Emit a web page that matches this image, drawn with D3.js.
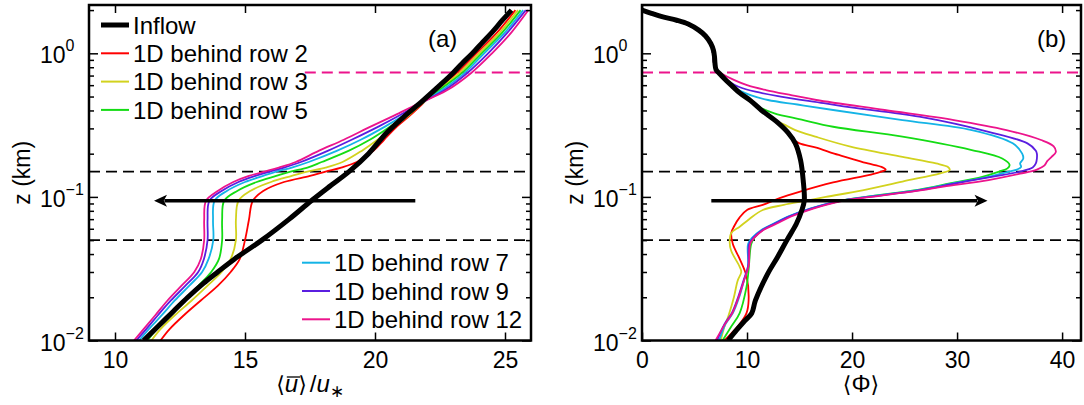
<!DOCTYPE html>
<html>
<head>
<meta charset="utf-8">
<script src="https://cdn.jsdelivr.net/npm/d3@7"></script>
<style>
  body { margin: 0; background: #fff; }
  text { font-family: "Liberation Sans", Arial, sans-serif; }
</style>
</head>
<body>
<script>
// ---------- data (z in km) ----------
const zDomain = [0.01, 2.17];
const uDomain = [9, 26];
const phiDomain = [0, 41.8];
const uTicks = [10, 15, 20, 25];
const phiTicks = [0, 10, 20, 30, 40];
const zMajor = [0.01, 0.1, 1];
const zMajorExp = ["\u22122", "\u22121", "0"];
const zMinor = [0.02, 0.03, 0.04, 0.05, 0.06, 0.07, 0.08, 0.09,
                0.2, 0.3, 0.4, 0.5, 0.6, 0.7, 0.8, 0.9, 2];

const seriesNames = ["Inflow", "1D behind row 2", "1D behind row 3", "1D behind row 5",
                     "1D behind row 7", "1D behind row 9", "1D behind row 12"];
const seriesColors = ["#000000", "#ff0000", "#d2d21e", "#14dc14", "#14b4e6", "#5a1ee0", "#ec148c"];

const zDashBlack = [0.05, 0.15];
const zDashMagenta = 0.735;
const uDashMagentaStart = 17.3;
const arrowZ = 0.094;
const uArrow = [21.55, 11.5];   // tail, tip
const phiArrow = [6.6, 32.9];   // tail, tip

// panel (a): [z, <u>/u*]
const uInflow = [[0.01,11.1],[0.0125,11.65],[0.016,12.25],[0.02,12.8],[0.025,13.4],[0.03,13.95],[0.037,14.6],
  [0.05,15.65],[0.07,16.7],[0.094,17.55],[0.12,18.3],[0.15,19.0],[0.2,19.75],[0.28,20.45],[0.36,21.1],
  [0.47,21.85],[0.6,22.5],[0.73,23.0],[0.85,23.35],[1.0,23.75],[1.2,24.15],[1.4,24.5],[1.7,24.9],[2.0,25.25]];
const uRow2 = [[0.01,11.75],[0.012,12.1],[0.015,12.65],[0.019,13.3],[0.024,13.95],[0.03,14.45],[0.037,14.8],
  [0.05,15.0],[0.069,15.15],[0.094,15.3],[0.11,15.7],[0.127,16.5],[0.14,17.5],[0.15,18.1],[0.16,18.7],
  [0.175,19.3],[0.21,19.95],[0.25,20.35],[0.31,20.85],[0.37,21.35],[0.44,21.8],[0.55,22.35],[0.73,23.15],
  [1.0,23.9],[1.4,24.7],[2.0,25.4]];
const uRow3 = [[0.01,11.4],[0.012,11.75],[0.015,12.3],[0.019,12.95],[0.024,13.55],[0.03,14.1],[0.037,14.45],
  [0.05,14.65],[0.069,14.65],[0.094,14.75],[0.11,15.2],[0.127,16.0],[0.14,16.8],[0.15,17.4],[0.16,18.1],
  [0.175,18.75],[0.21,19.5],[0.25,20.1],[0.31,20.75],[0.37,21.3],[0.44,21.75],[0.55,22.4],[0.73,23.25],
  [1.0,24.0],[1.4,24.8],[2.0,25.5]];
const uRow5 = [[0.01,11.25],[0.012,11.6],[0.015,12.1],[0.019,12.65],[0.024,13.2],[0.03,13.7],[0.037,14.0],
  [0.05,14.12],[0.069,14.12],[0.094,14.2],[0.11,14.7],[0.127,15.45],[0.14,16.2],[0.15,16.75],[0.16,17.4],
  [0.175,17.95],[0.21,19.0],[0.25,19.8],[0.31,20.6],[0.37,21.25],[0.44,21.75],[0.55,22.45],[0.73,23.35],
  [1.0,24.1],[1.4,24.9],[2.0,25.6]];
const uRow7 = [[0.01,10.93],[0.012,11.3],[0.015,11.8],[0.019,12.3],[0.024,12.85],[0.03,13.35],[0.037,13.6],
  [0.05,13.78],[0.069,13.77],[0.094,13.83],[0.11,14.3],[0.127,15.0],[0.14,15.7],[0.15,16.2],[0.16,16.8],
  [0.175,17.45],[0.21,18.55],[0.25,19.45],[0.31,20.4],[0.37,21.1],[0.44,21.7],[0.55,22.55],[0.73,23.45],
  [1.0,24.2],[1.4,25.0],[2.0,25.7]];
const uRow9 = [[0.01,10.82],[0.012,11.2],[0.015,11.65],[0.019,12.15],[0.024,12.7],[0.03,13.2],[0.037,13.42],
  [0.05,13.56],[0.069,13.56],[0.094,13.63],[0.11,14.1],[0.127,14.75],[0.14,15.4],[0.15,15.95],[0.16,16.5],
  [0.175,17.15],[0.21,18.2],[0.25,19.1],[0.31,20.15],[0.37,20.95],[0.44,21.65],[0.55,22.65],[0.73,23.55],
  [1.0,24.35],[1.4,25.1],[2.0,25.8]];
const uRow12 = [[0.01,10.73],[0.012,11.1],[0.015,11.55],[0.019,12.02],[0.024,12.55],[0.03,13.05],[0.037,13.3],
  [0.05,13.43],[0.069,13.43],[0.094,13.5],[0.11,13.95],[0.127,14.55],[0.14,15.15],[0.15,15.75],[0.16,16.3],
  [0.175,16.95],[0.21,17.85],[0.25,18.8],[0.31,19.85],[0.37,20.75],[0.44,21.6],[0.55,22.75],[0.73,23.7],
  [1.0,24.5],[1.4,25.25],[2.0,25.9]];

// panel (b): [z, <Phi>]
const phiInflow = [[2.0,0],[1.9,0.9],[1.8,1.9],[1.7,3.3],[1.6,4.4],[1.45,5.4],[1.32,6.05],[1.17,6.55],
  [1.05,6.8],[0.95,6.9],[0.85,6.95],[0.77,7.05],[0.72,7.4],[0.66,7.9],[0.6,8.5],[0.53,9.3],[0.47,10.3],
  [0.4,11.4],[0.33,12.9],[0.28,13.9],[0.236,14.6],[0.18,15.1],[0.13,15.35],[0.094,15.45],[0.08,15.2],
  [0.065,14.7],[0.05,13.8],[0.038,12.9],[0.029,11.95],[0.019,10.8],[0.0155,10.45],[0.0135,9.7],
  [0.0118,9.0],[0.01,8.2]];
const phiRow2 = [[2.0,0],[1.7,3.2],[1.45,5.3],[1.17,6.5],[1.0,6.75],[0.85,6.85],[0.77,7.0],[0.72,7.35],
  [0.66,7.85],[0.6,8.45],[0.53,9.25],[0.47,10.25],[0.4,11.35],[0.33,12.85],[0.28,13.8],[0.25,14.4],
  [0.236,15.0],[0.22,16.6],[0.2,18.3],[0.185,19.9],[0.171,21.5],[0.162,22.8],[0.155,23.2],[0.15,22.8],
  [0.143,21.8],[0.126,18.2],[0.108,14.9],[0.098,13.1],[0.088,11.5],[0.081,10.0],[0.072,9.3],[0.063,8.8],
  [0.056,8.5],[0.047,8.65],[0.037,9.3],[0.028,9.95],[0.019,10.15],[0.0155,9.95],[0.013,9.3],[0.01,7.85]];
const phiRow3 = [[2.0,0],[1.7,3.2],[1.45,5.3],[1.17,6.5],[1.0,6.75],[0.85,6.85],[0.77,7.0],[0.72,7.35],
  [0.66,7.85],[0.6,8.45],[0.53,9.25],[0.47,10.25],[0.4,11.35],[0.35,12.4],[0.32,13.5],[0.292,14.6],
  [0.263,16.5],[0.224,19.85],[0.19,24.8],[0.171,28.0],[0.162,29.1],[0.154,29.3],[0.146,28.4],[0.128,24.8],
  [0.111,21.0],[0.1,17.5],[0.094,15.6],[0.088,13.5],[0.081,11.5],[0.07,10.2],[0.062,9.3],[0.056,8.5],
  [0.048,8.35],[0.042,8.5],[0.0326,9.3],[0.03,9.45],[0.026,9.1],[0.02,8.75],[0.015,8.25],[0.0125,7.85],[0.01,7.5]];
const phiRow5 = [[2.0,0],[1.7,3.2],[1.45,5.3],[1.17,6.5],[1.0,6.75],[0.85,6.85],[0.77,7.0],[0.72,7.35],
  [0.66,7.85],[0.6,8.45],[0.53,9.25],[0.47,10.25],[0.42,11.2],[0.382,12.6],[0.345,15.2],[0.308,18.2],
  [0.263,24.8],[0.212,31.4],[0.185,34.3],[0.167,35.0],[0.158,34.8],[0.15,34.0],[0.138,32.4],[0.124,29.3],
  [0.111,25.9],[0.1,21.3],[0.094,18.9],[0.083,16.1],[0.073,14.0],[0.065,12.6],[0.059,11.5],[0.052,10.7],
  [0.047,10.4],[0.031,10.15],[0.0236,9.95],[0.0155,9.3],[0.0125,8.5],[0.01,7.67]];
const phiRow7 = [[2.0,0],[1.7,3.2],[1.45,5.3],[1.17,6.5],[1.0,6.75],[0.85,6.85],[0.77,7.0],[0.72,7.35],
  [0.66,7.85],[0.6,8.5],[0.55,9.3],[0.51,10.4],[0.473,12.0],[0.44,14.8],[0.403,18.2],[0.343,24.8],
  [0.292,31.4],[0.236,35.3],[0.2,36.2],[0.185,36.3],[0.171,36.0],[0.162,36.1],[0.155,35.7],[0.15,34.9],
  [0.138,33.0],[0.124,29.6],[0.111,26.1],[0.1,21.4],[0.094,18.8],[0.083,16.0],[0.073,13.9],[0.065,12.5],
  [0.059,11.4],[0.052,10.5],[0.047,10.1],[0.033,10.1],[0.026,9.7],[0.02,9.25],[0.0155,8.65],[0.013,7.95],[0.01,7.35]];
const phiRow9 = [[2.0,0],[1.7,3.2],[1.45,5.3],[1.17,6.5],[1.0,6.75],[0.85,6.85],[0.77,7.0],[0.72,7.4],
  [0.66,8.0],[0.62,8.5],[0.585,9.2],[0.54,10.8],[0.5,13.2],[0.45,17.3],[0.42,19.9],[0.362,26.4],
  [0.284,33.0],[0.236,36.7],[0.21,37.5],[0.2,37.6],[0.185,37.6],[0.171,37.5],[0.16,37.2],[0.15,36.0],
  [0.138,33.3],[0.124,29.8],[0.111,26.3],[0.1,21.6],[0.094,18.9],[0.083,16.1],[0.073,14.0],[0.065,12.6],
  [0.059,11.5],[0.052,10.6],[0.047,10.2],[0.033,10.1],[0.026,9.65],[0.02,9.15],[0.0155,8.55],[0.013,7.85],[0.01,7.15]];
const phiRow12 = [[2.0,0],[1.7,3.2],[1.45,5.3],[1.17,6.5],[1.0,6.75],[0.85,6.85],[0.77,7.0],[0.72,7.6],
  [0.65,8.8],[0.6,10.0],[0.555,11.8],[0.51,14.3],[0.473,16.6],[0.403,23.1],[0.343,29.7],[0.292,34.7],
  [0.249,38.0],[0.225,39.2],[0.205,39.4],[0.19,39.0],[0.178,38.6],[0.165,38.3],[0.155,37.6],[0.145,36.0],
  [0.131,33.0],[0.118,28.7],[0.111,26.5],[0.1,21.8],[0.094,19.1],[0.083,16.3],[0.073,14.2],[0.065,12.8],
  [0.059,11.6],[0.052,10.7],[0.047,10.3],[0.033,10.15],[0.026,9.7],[0.02,9.2],[0.0155,8.6],[0.013,7.9],[0.01,7.0]];

// ---------- layout ----------
const W = 1084, H = 405;
const plotTop = 5, plotBottom = 340.5;
const fontSize = 23;

const svg = d3.select("body").append("svg")
  .attr("width", W).attr("height", H);

function drawPanel(p) {
  const x = d3.scaleLinear().domain(p.xDomain).range([p.left, p.right]);
  const y = d3.scaleLog().domain(zDomain).range([plotBottom, plotTop]);
  const g = svg.append("g");

  g.append("clipPath").attr("id", "clip-" + p.id)
    .append("rect")
    .attr("x", p.left).attr("y", plotTop)
    .attr("width", p.right - p.left).attr("height", plotBottom - plotTop);
  const plot = g.append("g").attr("clip-path", `url(#clip-${p.id})`);

  // dashed guide lines
  plot.selectAll("line.dash")
    .data(zDashBlack)
    .enter().append("line")
    .attr("x1", p.left).attr("x2", p.right)
    .attr("y1", d => y(d)).attr("y2", d => y(d))
    .attr("stroke", "#000").attr("stroke-width", 1.8)
    .attr("stroke-dasharray", "11,6");
  plot.append("line")
    .attr("x1", x(p.magentaStart)).attr("x2", p.right)
    .attr("y1", y(zDashMagenta)).attr("y2", y(zDashMagenta))
    .attr("stroke", seriesColors[6]).attr("stroke-width", 1.8)
    .attr("stroke-dasharray", "11,6");

  const line = d3.line()
    .x(d => x(d[1]))
    .y(d => y(d[0]))
    .curve(d3.curveCatmullRom.alpha(0.5));

  // coloured profiles first, inflow on top
  const order = [1, 2, 3, 4, 5, 6, 0];
  plot.selectAll("path.profile")
    .data(order)
    .enter().append("path")
    .attr("d", i => line(p.series[i]))
    .attr("fill", "none")
    .attr("stroke", i => seriesColors[i])
    .attr("stroke-width", i => i === 0 ? 5 : 1.8)
    .attr("stroke-linejoin", "round");

  // arrow
  const ay = y(arrowZ);
  const tail = x(p.arrow[0]), tip = x(p.arrow[1]);
  const dir = tip > tail ? 1 : -1;
  const headLen = 13, headHalf = 6;
  plot.append("line")
    .attr("x1", tail).attr("x2", tip - dir * headLen * 0.8)
    .attr("y1", ay).attr("y2", ay)
    .attr("stroke", "#000").attr("stroke-width", 3.5);
  plot.append("path")
    .attr("d", `M${tip},${ay} L${tip - dir * headLen},${ay - headHalf} L${tip - dir * headLen * 0.75},${ay} L${tip - dir * headLen},${ay + headHalf} Z`)
    .attr("fill", "#000");

  // axes (ticks point inward, frame drawn separately)
  const axes = [
    { ax: d3.axisBottom(x).tickValues(p.ticks).tickSize(-8).tickPadding(11), t: `translate(0,${plotBottom})` },
    { ax: d3.axisTop(x).tickValues(p.ticks).tickSize(-8).tickFormat(""), t: `translate(0,${plotTop})` },
    { ax: d3.axisLeft(y).tickValues(zMajor).tickSize(-9).tickFormat(""), t: `translate(${p.left},0)` },
    { ax: d3.axisLeft(y).tickValues(zMinor).tickSize(-5).tickFormat(""), t: `translate(${p.left},0)` },
    { ax: d3.axisRight(y).tickValues(zMajor).tickSize(-9).tickFormat(""), t: `translate(${p.right},0)` },
    { ax: d3.axisRight(y).tickValues(zMinor).tickSize(-5).tickFormat(""), t: `translate(${p.right},0)` }
  ];
  axes.forEach(a => {
    const ga = g.append("g").attr("transform", a.t).call(a.ax);
    ga.select(".domain").remove();
    ga.selectAll(".tick line").attr("stroke", "#000").attr("stroke-width", 1.5);
    ga.selectAll(".tick text")
      .attr("font-size", fontSize)
      .attr("font-family", "'Liberation Sans', Arial, sans-serif")
      .attr("fill", "#000");
  });

  // y tick labels 10^n
  const yl = g.append("g").selectAll("text")
    .data(zMajor)
    .enter().append("text")
    .attr("x", p.left - 49)
    .attr("y", d => y(d) + 10)
    .attr("font-size", fontSize)
    .attr("fill", "#000");
  yl.append("tspan").text("10");
  yl.append("tspan")
    .attr("dy", -12).attr("font-size", 16)
    .text((d, i) => zMajorExp[i]);

  // frame
  g.append("rect")
    .attr("x", p.left).attr("y", plotTop)
    .attr("width", p.right - p.left).attr("height", plotBottom - plotTop)
    .attr("fill", "none").attr("stroke", "#000").attr("stroke-width", 2.5);

  // y label
  g.append("text")
    .attr("transform", `translate(${p.left - 67},${(plotTop + plotBottom) / 2}) rotate(-90)`)
    .attr("text-anchor", "middle").attr("dy", "0.35em")
    .attr("font-size", fontSize).attr("fill", "#000")
    .text("z (km)");

  // panel letter
  g.append("text")
    .attr("x", p.letterX).attr("y", 47)
    .attr("font-size", fontSize + 1).attr("fill", "#000")
    .text(p.letter);

  return { x, y, g };
}

const left = drawPanel({
  id: "a", left: 89, right: 531, xDomain: uDomain, ticks: uTicks,
  series: [uInflow, uRow2, uRow3, uRow5, uRow7, uRow9, uRow12],
  magentaStart: uDashMagentaStart, arrow: uArrow, letter: "(a)", letterX: 428
});
const right = drawPanel({
  id: "b", left: 642, right: 1081, xDomain: phiDomain, ticks: phiTicks,
  series: [phiInflow, phiRow2, phiRow3, phiRow5, phiRow7, phiRow9, phiRow12],
  magentaStart: phiDomain[0], arrow: phiArrow, letter: "(b)", letterX: 1037
});

// legend in panel (a): two blocks
function legendBlock(idx, x0, y0) {
  const rowH = 28.3;
  const rows = left.g.append("g").selectAll("g")
    .data(idx)
    .enter().append("g")
    .attr("transform", (d, i) => `translate(${x0},${y0 + i * rowH})`);
  rows.append("line")
    .attr("x1", 0).attr("x2", 28)
    .attr("stroke", d => seriesColors[d])
    .attr("stroke-width", d => d === 0 ? 5 : 2);
  rows.append("text")
    .attr("x", 32).attr("dy", "0.36em")
    .attr("font-size", fontSize + 1).attr("fill", "#000")
    .text(d => seriesNames[d]);
}
legendBlock([0, 1, 2, 3], 101, 25);
legendBlock([4, 5, 6], 302, 262.7);

// x labels (math style)
const serif = "'Liberation Serif', 'DejaVu Serif', serif";
const labelY = 392;
const xa = svg.append("text")
  .attr("x", 310).attr("y", labelY)
  .attr("text-anchor", "middle")
  .attr("font-family", serif).attr("font-size", 24).attr("fill", "#000");
xa.append("tspan").attr("font-family", "'DejaVu Serif', serif").attr("font-size", 22).text("\u27E8");
xa.append("tspan").attr("font-style", "italic").text("u");
xa.append("tspan").attr("font-family", "'DejaVu Serif', serif").attr("font-size", 22).text("\u27E9");
xa.append("tspan").attr("dx", 3).text("/");
xa.append("tspan").attr("font-style", "italic").text("u");
xa.append("tspan").attr("dy", 5).attr("font-size", 17).text("\u2217");
// bar over the first u
const node = xa.node();
const s = node.getStartPositionOfChar(1), e = node.getEndPositionOfChar(1);
svg.append("line")
  .attr("x1", s.x + 2).attr("x2", e.x + 2)
  .attr("y1", labelY - 15).attr("y2", labelY - 15)
  .attr("stroke", "#000").attr("stroke-width", 1.3);

const xb = svg.append("text")
  .attr("x", 861).attr("y", labelY)
  .attr("text-anchor", "middle")
  .attr("font-family", serif).attr("font-size", 24).attr("fill", "#000");
xb.append("tspan").attr("font-family", "'DejaVu Serif', serif").attr("font-size", 22).text("\u27E8");
xb.append("tspan").text("\u03A6");
xb.append("tspan").attr("font-family", "'DejaVu Serif', serif").attr("font-size", 22).text("\u27E9");
</script>
</body>
</html>
